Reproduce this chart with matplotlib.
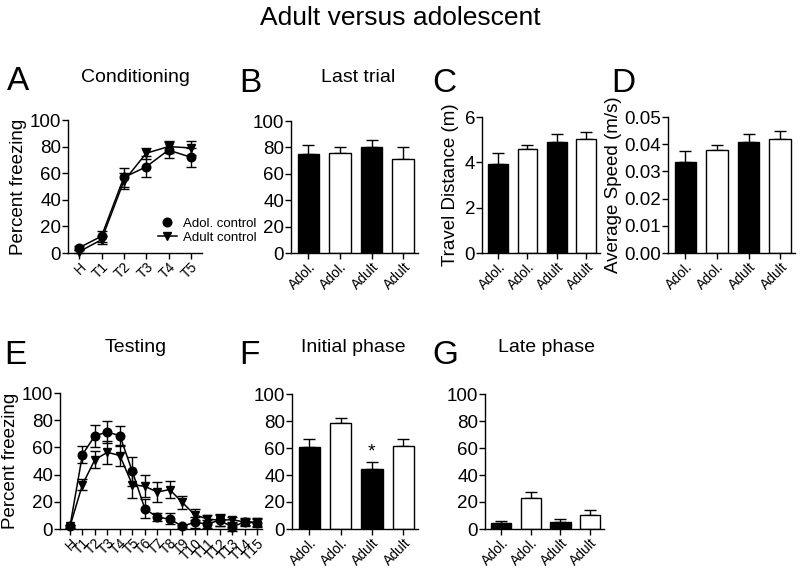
import matplotlib
matplotlib.use("Agg")
import matplotlib.pyplot as plt
from matplotlib.lines import Line2D
from matplotlib.ticker import FormatStrFormatter
import numpy as np

plt.rcParams['font.family'] = ['Liberation Sans', 'DejaVu Sans']

# --- Data ---
cond_labels = ['H', 'T1', 'T2', 'T3', 'T4', 'T5']
cond_adol = [4, 12.6, 56.8, 64.8, 77.4, 72]
cond_adol_err = [1.5, 4, 7, 8, 6, 7]
cond_adult = [1, 10, 54, 75, 80, 79]
cond_adult_err = [1, 3, 6, 4, 4.5, 5]

bar_labels = ['Adol.', 'Adol.', 'Adult', 'Adult']
bar_colors = ['black', 'white', 'black', 'white']

last_trial = [75, 76, 80.5, 71]
last_trial_err = [7, 4, 5, 9]
travel = [3.92, 4.58, 4.9, 5.05]
travel_err = [0.5, 0.2, 0.35, 0.3]
speed = [0.0333, 0.038, 0.0407, 0.042]
speed_err = [0.0043, 0.0016, 0.003, 0.0028]

test_labels = ['H'] + ['T%d' % i for i in range(1, 16)]
test_adol = [2, 54.7, 68.6, 71.3, 68.6, 42.4, 15, 8.6, 7.4, 2, 4.9, 3.7, 6.4, 1.5, 5.1, 4.4]
test_adol_err = [1, 6.5, 8, 8, 7.5, 10.5, 7, 3, 4, 1, 4, 3, 4, 3, 3, 3]
test_adult = [2, 32.6, 51, 56.4, 54, 32.6, 31.4, 27.2, 29, 19.6, 10.5, 7.4, 6.4, 6.9, 5.1, 5.1]
test_adult_err = [1, 4, 6, 8.5, 8, 9.5, 8, 7, 6.5, 5, 4, 3, 4.5, 2, 2.5, 3]

initial = [61, 78.5, 44.5, 61.5]
initial_err = [6, 4, 5, 5.5]
late = [4.3, 23, 5.4, 10.6]
late_err = [1.5, 4.5, 1.7, 3.2]

W, H = 800, 568


def px_axes(fig, x0, x1, ytop, ybot):
    # axes from pixel box of the reference image
    return fig.add_axes([x0 / W, 1 - ybot / H, (x1 - x0) / W, (ybot - ytop) / H])


def style(ax):
    for s in ['top', 'right']:
        ax.spines[s].set_visible(False)
    for s in ['left', 'bottom']:
        ax.spines[s].set_linewidth(1.0)
    ax.tick_params(axis='both', direction='out', length=4, width=1.0)
    ax.tick_params(axis='y', labelsize=13.5, pad=1)
    ax.tick_params(axis='x', labelsize=10, pad=1)


def rot_labels(ax, labels):
    ax.set_xticklabels(labels, rotation=45, ha='right', rotation_mode='anchor')


def line_panel(ax, labels, adol, adol_err, adult, adult_err, xlim):
    x = np.arange(len(labels))
    ax.errorbar(x, adult, yerr=adult_err, color='black', marker='v', markersize=6,
                linewidth=1.1, elinewidth=1.0, capsize=3.5, capthick=1.0, clip_on=False, zorder=3)
    ax.errorbar(x, adol, yerr=adol_err, color='black', marker='o', markersize=6.2,
                linewidth=1.1, elinewidth=1.0, capsize=3.5, capthick=1.0, clip_on=False, zorder=4)
    ax.set_ylim(0, 100)
    ax.set_yticks([0, 20, 40, 60, 80, 100])
    ax.set_xlim(*xlim)
    ax.set_xticks(x)
    style(ax)
    rot_labels(ax, labels)


def bar_panel(ax, values, errs, ylim, yticks):
    x = np.arange(len(values))
    ax.bar(x, values, width=0.68, color=bar_colors, edgecolor='black', linewidth=1.0, zorder=2)
    ax.errorbar(x, values, yerr=[[0] * len(errs), errs], fmt='none', ecolor='black',
                elinewidth=1.0, capsize=4, capthick=1.0, zorder=1)
    ax.set_ylim(*ylim)
    ax.set_yticks(yticks)
    ax.set_xlim(-0.55, 3.47)
    ax.set_xticks(x)
    style(ax)
    rot_labels(ax, bar_labels)


fig = plt.figure(figsize=(8, 5.68), dpi=100)

fig.text(0.5, 1 - 18 / H, 'Adult versus adolescent', ha='center', va='center', fontsize=19)

letters = [('A', 18, 82), ('B', 250, 84), ('C', 444, 84), ('D', 623, 84),
           ('E', 15, 356), ('F', 249, 356), ('G', 445, 356)]
for t, lx, ly in letters:
    fig.text(lx / W, 1 - ly / H, t, ha='center', va='center', fontsize=24)

subtitles = [('Conditioning', 135, 77), ('Last trial', 358, 77),
             ('Testing', 136, 348), ('Initial phase', 353, 348), ('Late phase', 546, 348)]
for t, sx, sy in subtitles:
    fig.text(sx / W, 1 - sy / H, t, ha='center', va='center', fontsize=14)

# A
axA = px_axes(fig, 68, 202, 120, 253)
line_panel(axA, cond_labels, cond_adol, cond_adol_err, cond_adult, cond_adult_err, (-0.5, 5.5))
axA.set_ylabel('Percent freezing', fontsize=13.5, labelpad=2)
handles = [Line2D([], [], color='black', marker='o', linestyle='none', markersize=6.2),
           Line2D([], [], color='black', marker='v', linestyle='-', linewidth=1.1, markersize=6)]
fig.legend(handles, ['Adol. control', 'Adult control'], loc='upper left',
           bbox_to_anchor=(151 / W, 1 - 211 / H), frameon=False, fontsize=9.5,
           borderpad=0, handlelength=1.5, handletextpad=0.4, labelspacing=0.15)

# B
axB = px_axes(fig, 291, 418, 121, 253)
bar_panel(axB, last_trial, last_trial_err, (0, 100), [0, 20, 40, 60, 80, 100])

# C
axC = px_axes(fig, 482, 600, 117, 253)
bar_panel(axC, travel, travel_err, (0, 6), [0, 2, 4, 6])
axC.set_ylabel('Travel Distance (m)', fontsize=13.5, labelpad=4)

# D
axD = px_axes(fig, 668, 795, 117, 253)
bar_panel(axD, speed, speed_err, (0, 0.05), [0, 0.01, 0.02, 0.03, 0.04, 0.05])
axD.yaxis.set_major_formatter(FormatStrFormatter('%.2f'))
axD.set_ylabel('Average Speed (m/s)', fontsize=13.5, labelpad=2)

# E
axE = px_axes(fig, 60, 262, 393, 529)
line_panel(axE, test_labels, test_adol, test_adol_err, test_adult, test_adult_err, (-0.8, 15.4))
axE.set_ylabel('Percent freezing', fontsize=13.5, labelpad=2)

# F
axF = px_axes(fig, 292, 418, 394, 529)
bar_panel(axF, initial, initial_err, (0, 100), [0, 20, 40, 60, 80, 100])
axF.text(2, 57, '*', ha='center', va='center', fontsize=14)

# G
axG = px_axes(fig, 485, 604, 394, 529)
bar_panel(axG, late, late_err, (0, 100), [0, 20, 40, 60, 80, 100])

fig.savefig('out.png', dpi=100)
